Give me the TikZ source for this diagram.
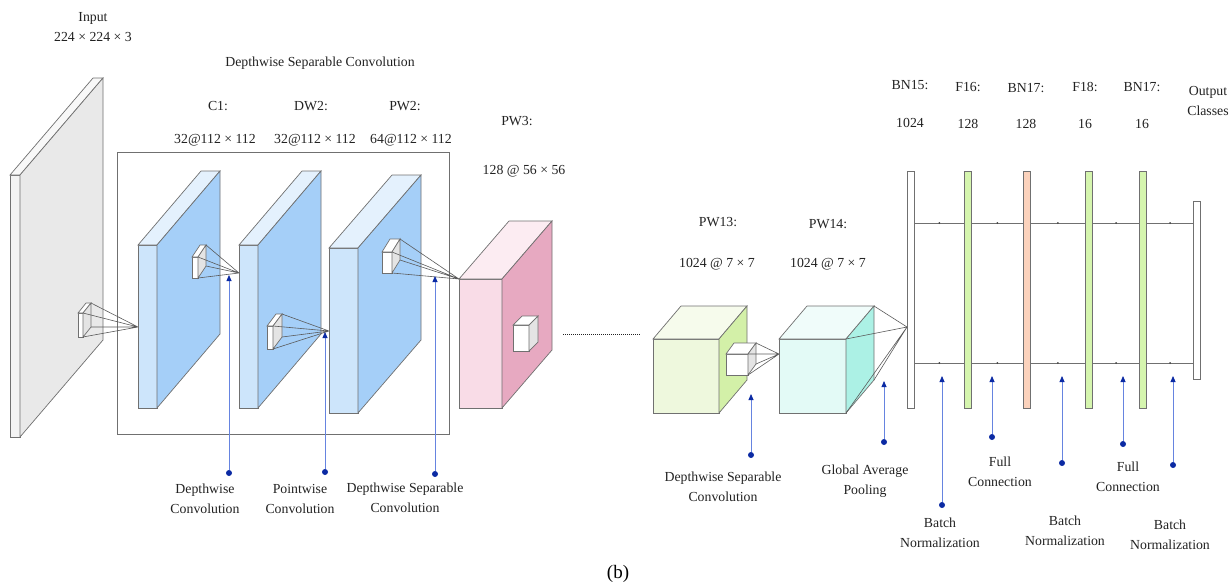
\documentclass[tikz,border=0pt]{standalone}
\usepackage{fontspec}
\setmainfont{Liberation Serif}
\usetikzlibrary{arrows.meta}
\definecolor{edge}{HTML}{707070}
\definecolor{txt}{HTML}{222222}
\definecolor{inface}{HTML}{F3F3F3}
\definecolor{inside}{HTML}{E9E9E9}
\definecolor{bluefront}{HTML}{CDE5FB}
\definecolor{blueside}{HTML}{A5CFF8}
\definecolor{pinkfront}{HTML}{F9DCE7}
\definecolor{pinkside}{HTML}{E7A9C1}
\definecolor{greenfront}{HTML}{EEF8DD}
\definecolor{greenside}{HTML}{D3F0A8}
\definecolor{cyanfront}{HTML}{E3FAF6}
\definecolor{cyanside}{HTML}{ACF1E5}
\definecolor{barlime}{HTML}{D5F5AE}
\definecolor{barpeach}{HTML}{FBD2BC}
\definecolor{kside}{HTML}{E4E4E4}
\definecolor{bluelight}{HTML}{6684E0}
\definecolor{bluedark}{HTML}{0B2AA3}
% cuboid: name, x, width, top, bottom, depth x, depth y, front colour, side colour
\newcommand{\cuboid}[9]{
  \coordinate (#1-ftl) at (#2,#4);
  \coordinate (#1-ftr) at ({#2+#3},#4);
  \coordinate (#1-fbr) at ({#2+#3},#5);
  \coordinate (#1-btl) at ({#2+#6},{#4+(#7)});
  \coordinate (#1-btr) at ({#2+#3+#6},{#4+(#7)});
  \coordinate (#1-bbr) at ({#2+#3+#6},{#5+(#7)});
  \filldraw[draw=edge,fill=#8] (#1-ftl) rectangle (#1-fbr);
  \filldraw[draw=edge,fill=#8!55!white] (#1-ftl) -- (#1-btl) -- (#1-btr) -- (#1-ftr) -- cycle;
  \filldraw[draw=edge,fill=#9] (#1-ftr) -- (#1-btr) -- (#1-bbr) -- (#1-fbr) -- cycle;
}
\begin{document}
\begin{tikzpicture}[x=1pt,y=-1pt,line width=.7pt,
    lab/.style={align=center,font=\fontsize{13.8}{20}\selectfont,text=txt,inner sep=0},
    bar/.style={draw=edge,minimum width=7pt,minimum height=237pt,inner sep=0,outer sep=0},
    bdot/.style={circle,fill=bluedark,inner sep=0,minimum size=6pt},
    barrow/.style={draw=bluelight,line width=.8pt,-{Triangle[length=6pt,width=5pt,color=bluedark]}},
    ray/.style={draw=edge!80!black,line width=.6pt},
    tick/.style={circle,fill=edge!60!black,inner sep=0,minimum size=2pt}]
  \useasboundingbox (0,0) rectangle (1230,587);

  \draw[edge] (117,152) rectangle (449,434);

  \cuboid{in}{10}{10}{175}{437}{83}{-97}{inface}{inside}
  \cuboid{c1}{138}{19}{245}{408}{63}{-74}{bluefront}{blueside}
  \cuboid{dw2}{239}{19}{245}{408}{63}{-74}{bluefront}{blueside}
  \cuboid{pw2}{329}{29}{248}{413}{63}{-73}{bluefront}{blueside}
  \cuboid{pw3}{459}{43}{279}{408}{50}{-58}{pinkfront}{pinkside}
  \cuboid{pw13}{653}{66}{339}{413}{28}{-33}{greenfront}{greenside}
  \cuboid{pw14}{779}{67}{339}{413}{28}{-33}{cyanfront}{cyanside}

  \draw[densely dotted,line width=1pt,txt] (563,334) -- (640,334);

  % kernels and their receptive fields
  \coordinate (a0) at (c1-ftl |- 0,327);
  \coordinate (a1) at (dw2-ftl |- 0,273);
  \coordinate (a2) at (pw2-ftl |- 0,331);
  \coordinate (a3) at (pw3-ftl);
  \coordinate (a5) at (pw14-ftl |- 0,354);
  \cuboid{k0}{78}{5}{313}{337}{8}{-10}{white}{kside}
  \cuboid{k1}{192}{6}{257}{278}{8}{-12}{white}{kside}
  \cuboid{k2}{267}{6}{326}{349}{9}{-12}{white}{kside}
  \cuboid{k3}{382}{10}{252}{273}{8}{-13}{white}{kside}
  \cuboid{k4}{513}{16}{325}{351}{9}{-9}{white}{kside}
  \cuboid{k5}{726}{22}{354}{375}{8}{-11}{white}{kside}
  \foreach \k/\a in {k0/a0,k1/a1,k2/a2,k3/a3,k5/a5}
    \draw[ray] (\k-ftr) -- (\a) (\k-btr) -- (\a) (\k-bbr) -- (\a) (\k-fbr) -- (\a);

  \node[bar,fill=white] (bn15) at (910.5,289.5) {};
  \node[bar,fill=barlime] (f16) at (968,289.5) {};
  \node[bar,fill=barpeach] (bna) at (1026.5,289.5) {};
  \node[bar,fill=barlime] (f18) at (1089,289.5) {};
  \node[bar,fill=barlime] (bnb) at (1143,289.5) {};
  \node[bar,fill=white,minimum height=178pt] (out) at (1197,290) {};

  \coordinate (a6) at (bn15.west |- 0,327);
  \draw[ray] (pw14-ftr) -- (a6) (pw14-btr) -- (a6) (pw14-bbr) -- (a6) (pw14-fbr) -- (a6);

  \coordinate (hi) at (0,223);
  \coordinate (lo) at (0,363);
  \foreach \a/\b in {bn15/f16,f16/bna,bna/f18,f18/bnb,bnb/out}{
    \draw[edge] (\a.east |- hi) -- node[tick]{} (\b.west |- hi);
    \draw[edge] (\a.east |- lo) -- node[tick]{} (\b.west |- lo);
  }

  \foreach \n/\x/\t/\d in {dc/229/275/473,pc/325/332/472,dsc/435/276/474,ds/751/394/455,gap/884/381/442,bn1/942/376/505,fc1/992/376/437,bn2/1062/376/463,fc2/1123/376/444,bn3/1173/376/465}{
    \node[bdot] (\n) at (\x,\d) {};
    \coordinate (\n-t) at (\x,\t);
    \draw[barrow] (\n) -- (\n-t);
  }

  \node[lab] (in-l) at (93,27) {Input\\224 × 224 × 3};
  \node[lab] (dsc-h) at (320,63) {Depthwise Separable Convolution};
  \node[lab] (c1-l) at (218,106) {C1:};
  \node[lab] (dw2-l) at (311,106) {DW2:};
  \node[lab] (pw2-l) at (405,106) {PW2:};
  \node[lab] (c1-s) at (215,140) {32@112 × 112};
  \node[lab] (dw2-s) at (315,140) {32@112 × 112};
  \node[lab] (pw2-s) at (411,140) {64@112 × 112};
  \node[lab] (pw3-l) at (517,121) {PW3:};
  \node[lab] (pw3-s) at (524,171) {128 @ 56 × 56};
  \node[lab] (pw13-l) at (718,222) {PW13:};
  \node[lab] (pw13-s) at (717,264) {1024 @ 7 × 7};
  \node[lab] (pw14-l) at (828,224) {PW14:};
  \node[lab] (pw14-s) at (828,264) {1024 @ 7 × 7};
  \node[lab] (bn15-l) at (910,85) {BN15:};
  \node[lab] (bn15-s) at (910,123) {1024};
  \node[lab] (f16-l) at (968,87) {F16:};
  \node[lab] (f16-s) at (968,124) {128};
  \node[lab] (bna-l) at (1026,88) {BN17:};
  \node[lab] (bna-s) at (1026,124) {128};
  \node[lab] (f18-l) at (1085,87) {F18:};
  \node[lab] (f18-s) at (1085,124) {16};
  \node[lab] (bnb-l) at (1142,87) {BN17:};
  \node[lab] (bnb-s) at (1142,124) {16};
  \node[lab] (out-l) at (1208,101) {Output\\Classes};

  \node[lab] (dc-l) at (205,499) {Depthwise\\Convolution};
  \node[lab] (pc-l) at (300,499) {Pointwise\\Convolution};
  \node[lab] (dsc-l) at (405,498) {Depthwise Separable\\Convolution};
  \node[lab] (ds-l) at (723,487) {Depthwise Separable\\Convolution};
  \node[lab] (gap-l) at (865,481) {Global Average\\Pooling};
  \node[lab] (bn1-l) at (940,533) {Batch\\Normalization};
  \node[lab] (fc1-l) at (1000,472) {Full\\Connection};
  \node[lab] (bn2-l) at (1065,531) {Batch\\Normalization};
  \node[lab] (fc2-l) at (1128,477) {Full\\Connection};
  \node[lab] (bn3-l) at (1170,535) {Batch\\Normalization};

  \node[font=\fontsize{19}{22}\selectfont,inner sep=0] (sub) at (618,574) {(b)};
\end{tikzpicture}
\end{document}
